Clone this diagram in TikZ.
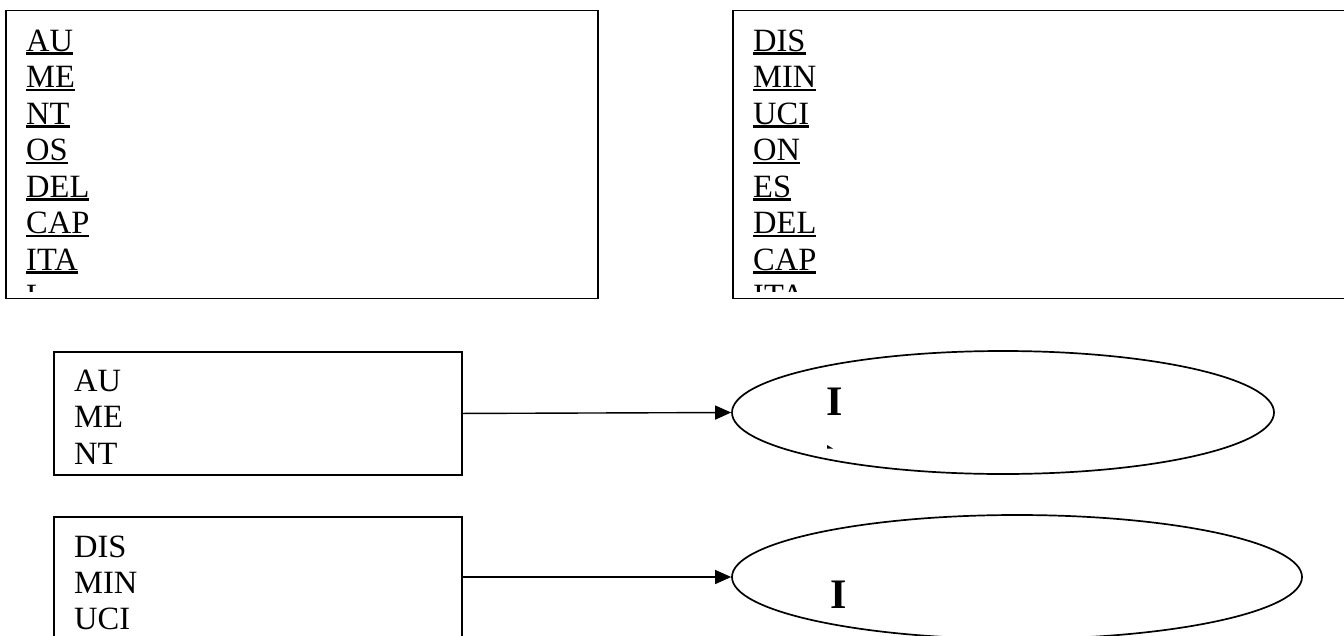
\documentclass[tikz,border=0pt]{standalone}
\usepackage{fontspec}
\setmainfont{Liberation Serif}
\usetikzlibrary{positioning,arrows.meta,shapes.geometric}

\newcommand\ulword[1]{\setbox0\hbox{#1}\rlap{\rule[-3.5pt]{\wd0}{2.5pt}}\box0}

\tikzset{
  frame/.style={draw, line width=1.9pt, rectangle, inner sep=0pt, anchor=north west},
  oval/.style={draw, line width=1.7pt, ellipse, inner sep=0pt},
  word/.style={anchor=base west, inner sep=0pt, font=\fontsize{32.5}{34}\selectfont},
  bigI/.style={anchor=base west, inner sep=0pt, font=\fontsize{42}{44}\selectfont\bfseries},
  link/.style={line width=1.4pt, -{Triangle[length=16pt,width=14pt]}}
}

\begin{document}
\begin{tikzpicture}[x=1pt,y=-1pt]
\useasboundingbox (0,0) rectangle (1344,635);
\clip (0,0) rectangle (1344,635);

% upper boxes
\node[frame, minimum width=592pt, minimum height=288pt] (aumentos) at (5,9.5) {};
\node[frame, minimum width=640pt, minimum height=288pt] (disminuciones) at (732,9.5) {};

\begin{scope}
  \clip (aumentos.north west) rectangle ([yshift=8pt]aumentos.south east);
  \foreach \w [count=\i from 0] in {AU,ME,NT,OS,DEL,CAP,ITA,L}
    \node[word] (au\i) at (26,{51+36.5*\i}) {\ulword{\w}};
\end{scope}
\begin{scope}
  \clip (disminuciones.north west) rectangle ([yshift=8pt]disminuciones.south east);
  \foreach \w [count=\i from 0] in {DIS,MIN,UCI,ON,ES,DEL,CAP,ITA,L}
    \node[word] (dis\i) at (753,{51+36.5*\i}) {\ulword{\w}};
\end{scope}

% lower boxes
\node[frame, minimum width=408pt, minimum height=123pt] (aumento) at (53,351) {};
\node[frame, minimum width=408pt, minimum height=140pt] (disminucion) at (53,516) {};
\foreach \w [count=\i from 0] in {AU,ME,NT}
  \node[word] (aum\i) at (74,{391+36.5*\i}) {\w};
\foreach \w [count=\i from 0] in {DIS,MIN,UCI}
  \node[word] (dism\i) at (74,{557+36*\i}) {\w};

% ovals
\node[oval, minimum width=542pt, minimum height=123pt] (ingreso) at (1003,412.5) {};
\node[oval, minimum width=570pt, minimum height=124pt] (egreso) at (1017,577) {};
\node[bigI] (ingresoI) at (826,415) {I};
\node[bigI] (egresoI) at (830,608) {I};
\fill (827,445) -- (827,448.5) -- (833,448.5) -- cycle;

\draw[link] (aumento.east) -- (ingreso.west);
\draw[link] (egreso.west -| disminucion.east) -- (egreso.west);
\end{tikzpicture}
\end{document}
